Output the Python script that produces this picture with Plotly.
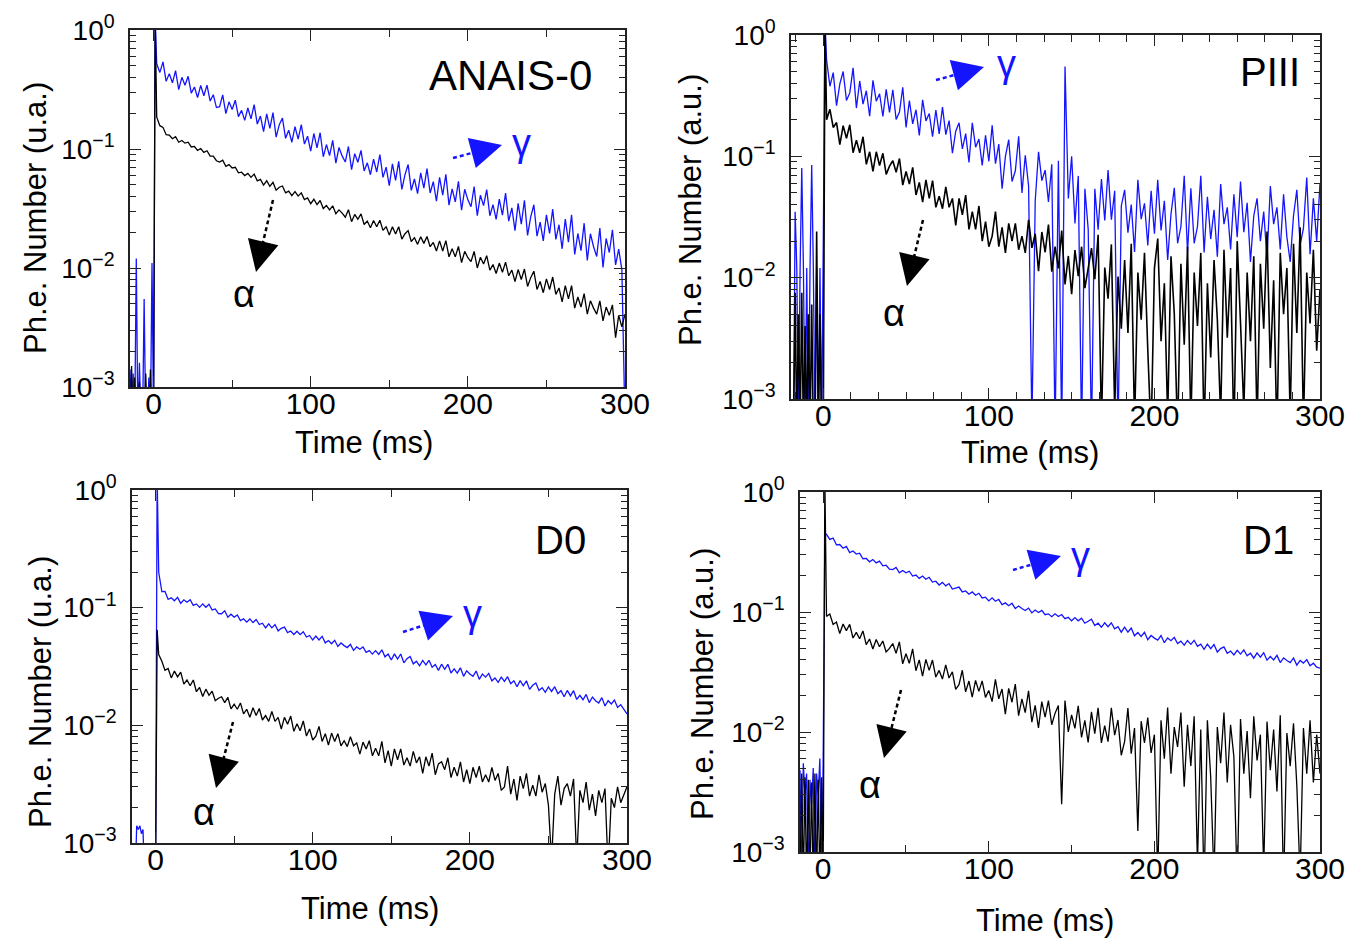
import plotly.graph_objects as go

W, H = 1350, 939

# ---------------- data ----------------
T_MAIN = list(range(2, 300, 2))  # 149 sample times (ms) after the trigger, 2 ms bins

# ---- ANAIS-0 (top left) ----
TL_T_PRE = [-15, -14, -13, -12, -11, -10, -9, -8, -7, -6, -5, -4, -3, -2, -1, 0]
TL_GAMMA_PRE = [0.0014, 0.0005, 0.0013, 0.0005, 0.012, 0.0005, 0.0016, 0.0005,
                0.0005, 0.0055, 0.0005, 0.0005, 0.0012, 0.0005, 0.011, 0.0005]
TL_ALPHA_PRE = [0.0005, 0.0015, 0.0005, 0.0012, 0.0005, 0.0005, 0.0011, 0.0005,
                0.0005, 0.0005, 0.0013, 0.0005, 0.0005, 0.0014, 0.0005, 0.0006]
TL_GAMMA_PEAK, TL_ALPHA_PEAK = 1.3, 1.3
TL_GAMMA = [0.52, 0.44, 0.54, 0.37, 0.43, 0.36, 0.455, 0.315, 0.40, 0.343,
            0.408, 0.295, 0.332, 0.271, 0.342, 0.28, 0.344, 0.253, 0.286, 0.223,
            0.227, 0.285, 0.198, 0.249, 0.215, 0.257, 0.187, 0.211, 0.174, 0.221,
            0.179, 0.236, 0.162, 0.189, 0.14, 0.197, 0.149, 0.202, 0.126, 0.16,
            0.182, 0.123, 0.144, 0.114, 0.154, 0.121, 0.16, 0.11, 0.128, 0.096,
            0.135, 0.102, 0.137, 0.086, 0.109, 0.088, 0.118, 0.076, 0.103, 0.0875,
            0.0777, 0.105, 0.0672, 0.0913, 0.0774, 0.0972, 0.0654, 0.0765, 0.0608, 0.0822,
            0.0641, 0.0898, 0.0578, 0.0705, 0.0491, 0.0749, 0.0544, 0.0788, 0.0457, 0.061,
            0.074, 0.0449, 0.056, 0.0422, 0.063, 0.0469, 0.0683, 0.0427, 0.0532, 0.0364,
            0.0578, 0.041, 0.0612, 0.0338, 0.0463, 0.036, 0.0535, 0.0306, 0.0459, 0.0374,
            0.0327, 0.0483, 0.0275, 0.041, 0.0334, 0.0455, 0.0275, 0.0341, 0.0256, 0.0379,
            0.0278, 0.0426, 0.0248, 0.032, 0.0206, 0.0349, 0.0234, 0.0371, 0.0188, 0.0269,
            0.034, 0.0185, 0.0243, 0.0169, 0.028, 0.0195, 0.0312, 0.0174, 0.0231, 0.0145,
            0.0258, 0.0165, 0.028, 0.013, 0.0195, 0.014, 0.0238, 0.0116, 0.0194, 0.0151,
            0.0125, 0.0217, 0.0101, 0.0177, 0.0135, 0.0209, 0.0106, 0.0144, 0.0097]
TL_ALPHA = [0.185, 0.157, 0.152, 0.132, 0.131, 0.122, 0.127, 0.114, 0.118, 0.112,
            0.114, 0.104, 0.105, 0.0975, 0.101, 0.0936, 0.0966, 0.087, 0.0872, 0.0797,
            0.0776, 0.0806, 0.0716, 0.074, 0.0693, 0.0702, 0.063, 0.0638, 0.0598, 0.0623,
            0.0578, 0.0615, 0.054, 0.0556, 0.0498, 0.0541, 0.0485, 0.0524, 0.0451, 0.0477,
            0.0489, 0.0428, 0.0443, 0.0406, 0.0438, 0.0402, 0.0428, 0.0376, 0.0388, 0.0347,
            0.0378, 0.0341, 0.0369, 0.0316, 0.0335, 0.0308, 0.0333, 0.0286, 0.0308, 0.0289,
            0.0267, 0.0309, 0.0245, 0.0282, 0.0257, 0.0285, 0.0232, 0.0248, 0.0218, 0.0251,
            0.0222, 0.0252, 0.0207, 0.0223, 0.0189, 0.0222, 0.0193, 0.0222, 0.0175, 0.0194,
            0.0206, 0.0167, 0.018, 0.0158, 0.0183, 0.0161, 0.0184, 0.0151, 0.0164, 0.0139,
            0.0169, 0.0139, 0.017, 0.0124, 0.0145, 0.0124, 0.0152, 0.0111, 0.0138, 0.0122,
            0.0113, 0.0138, 0.01, 0.0123, 0.0108, 0.0127, 0.0096, 0.0107, 0.009, 0.011,
            0.0092, 0.0112, 0.0086, 0.0096, 0.0077, 0.0097, 0.008, 0.0098, 0.007, 0.0083,
            0.0094, 0.0066, 0.0077, 0.0062, 0.0081, 0.0066, 0.0084, 0.006, 0.0068, 0.0052,
            0.0071, 0.0055, 0.0071, 0.0046, 0.0057, 0.0047, 0.0061, 0.0041, 0.0053, 0.0046,
            0.0041, 0.0053, 0.0036, 0.0047, 0.004, 0.0049, 0.0026, 0.004, 0.0032]
TL_GAMMA_END, TL_ALPHA_END = 0.0005, 0.0041

# ---- PIII (top right) ----
TR_T_PRE = [-18, -17, -16, -15, -14, -13, -12, -11, -10, -9, -8, -7, -6, -5, -4, -3, -2, -1, 0]
TR_GAMMA_PRE = [0.0005, 0.035, 0.012, 0.0005, 0.012, 0.08, 0.012, 0.0005, 0.012, 0.0005,
                0.012, 0.085, 0.012, 0.0005, 0.012, 0.0005, 0.012, 0.0005, 0.02]
TR_ALPHA_PRE = [0.0005, 0.0075, 0.0005, 0.005, 0.0005, 0.0075, 0.0005, 0.004, 0.0005, 0.005,
                0.0005, 0.006, 0.0005, 0.0005, 0.024, 0.0005, 0.005, 0.0005, 0.0005]
TR_GAMMA_PEAK, TR_ALPHA_PEAK = 1.3, 1.3
TR_GAMMA = [0.62, 0.378, 0.49, 0.262, 0.395, 0.50, 0.289, 0.333, 0.536, 0.25,
            0.418, 0.269, 0.347, 0.214, 0.423, 0.285, 0.328, 0.213, 0.356, 0.23,
            0.354, 0.201, 0.232, 0.371, 0.173, 0.288, 0.185, 0.242, 0.149, 0.292,
            0.196, 0.225, 0.145, 0.241, 0.153, 0.255, 0.151, 0.197, 0.106, 0.161,
            0.189, 0.115, 0.154, 0.089, 0.189, 0.119, 0.139, 0.084, 0.149, 0.091,
            0.18, 0.087, 0.126, 0.054, 0.10, 0.137, 0.062, 0.076, 0.146, 0.05,
            0.102, 0.057, 0.0006, 0.043, 0.109, 0.063, 0.077, 0.042, 0.086, 0.0005,
            0.092, 0.0005, 0.55, 0.045, 0.10, 0.028, 0.069, 0.0005, 0.054, 0.025,
            0.0005, 0.054, 0.0248, 0.065, 0.0296, 0.077, 0.03, 0.052, 0.0005, 0.039,
            0.053, 0.0235, 0.04, 0.0163, 0.064, 0.0304, 0.041, 0.0184, 0.052, 0.023,
            0.064, 0.0245, 0.043, 0.014, 0.0335, 0.055, 0.0192, 0.0264, 0.069, 0.0161,
            0.0546, 0.0192, 0.0264, 0.069, 0.0161, 0.0465, 0.0208, 0.0363, 0.0149, 0.059,
            0.0276, 0.038, 0.0171, 0.0486, 0.0216, 0.062, 0.0237, 0.0414, 0.0135, 0.0324,
            0.045, 0.02, 0.035, 0.0144, 0.057, 0.0276, 0.038, 0.0171, 0.0486, 0.0216,
            0.0135, 0.0324, 0.053, 0.0186, 0.0255, 0.067, 0.0156, 0.045, 0.02]
TR_ALPHA = [0.20, 0.244, 0.173, 0.19, 0.125, 0.179, 0.141, 0.182, 0.107, 0.136,
            0.107, 0.145, 0.086, 0.109, 0.075, 0.109, 0.084, 0.106, 0.071, 0.083,
            0.092, 0.074, 0.096, 0.058, 0.075, 0.059, 0.081, 0.048, 0.061, 0.042,
            0.064, 0.045, 0.063, 0.038, 0.047, 0.037, 0.056, 0.038, 0.045, 0.027,
            0.045, 0.033, 0.048, 0.025, 0.035, 0.025, 0.039, 0.02, 0.029, 0.018,
            0.022, 0.035, 0.018, 0.026, 0.016, 0.028, 0.02, 0.028, 0.017, 0.022,
            0.016, 0.03, 0.0176, 0.023, 0.0113, 0.0238, 0.0162, 0.0274, 0.0112, 0.018,
            0.0119, 0.0244, 0.0088, 0.0151, 0.0073, 0.0169, 0.0103, 0.018, 0.0082, 0.0119,
            0.0175, 0.0097, 0.0226, 0.0006, 0.0121, 0.0067, 0.0188, 0.0008, 0.0102, 0.0038,
            0.014, 0.0035, 0.019, 0.0006, 0.011, 0.0045, 0.016, 0.0025, 0.0005, 0.012,
            0.021, 0.003, 0.009, 0.0007, 0.015, 0.005, 0.0005, 0.013, 0.0028, 0.018,
            0.0006, 0.011, 0.004, 0.016, 0.0005, 0.009, 0.0022, 0.014, 0.0045, 0.0007,
            0.017, 0.0032, 0.012, 0.0005, 0.02, 0.0042, 0.0008, 0.011, 0.003, 0.015,
            0.0006, 0.013, 0.0038, 0.024, 0.0018, 0.0095, 0.0005, 0.016, 0.005, 0.012,
            0.0007, 0.019, 0.0035, 0.026, 0.0006, 0.011, 0.0042, 0.017, 0.0025]
TR_GAMMA_END, TR_ALPHA_END = 0.06, 0.008

# ---- D0 (bottom left) ----
BL_T_PRE = [-15, -14, -13, -12, -11, -10, -9, -8, -7, -6, -5, -4, -3, -2, -1, 0]
BL_GAMMA_PRE = [0.0005, 0.0005, 0.0005, 0.0014, 0.0013, 0.0014, 0.0012, 0.0013,
                0.0005, 0.0005, 0.0005, 0.0005, 0.0005, 0.0005, 0.0005, 0.0005]
BL_ALPHA_PRE = [0.0005, 0.0005, 0.0005, 0.0005, 0.0005, 0.0005, 0.0005, 0.0005,
                0.0005, 0.0005, 0.0005, 0.0005, 0.0005, 0.0005, 0.0005, 0.0005]
BL_GAMMA_PEAK, BL_ALPHA_PEAK = 1.3, 0.065
BL_GAMMA = [0.2, 0.137, 0.1375, 0.1175, 0.1214, 0.1144, 0.1224, 0.1088, 0.1166, 0.1111,
            0.1168, 0.1045, 0.1076, 0.1006, 0.1076, 0.1008, 0.1069, 0.0956, 0.0976, 0.0891,
            0.0888, 0.0941, 0.0829, 0.088, 0.083, 0.0868, 0.0777, 0.0805, 0.0754, 0.0802,
            0.0747, 0.0794, 0.0719, 0.0737, 0.0673, 0.0729, 0.0674, 0.0719, 0.0635, 0.0668,
            0.0684, 0.0614, 0.0634, 0.0591, 0.0631, 0.059, 0.0624, 0.0563, 0.058, 0.0531,
            0.0573, 0.0532, 0.0571, 0.0502, 0.0526, 0.0494, 0.0528, 0.0468, 0.0501, 0.0476,
            0.0458, 0.0488, 0.0433, 0.0464, 0.0443, 0.0464, 0.0417, 0.0431, 0.0403, 0.0431,
            0.04, 0.0438, 0.0382, 0.0403, 0.0359, 0.0405, 0.0366, 0.0404, 0.034, 0.0369,
            0.0385, 0.0333, 0.0351, 0.032, 0.0356, 0.0326, 0.0357, 0.0312, 0.0329, 0.0293,
            0.0331, 0.0299, 0.033, 0.0278, 0.0302, 0.0278, 0.0308, 0.0261, 0.0291, 0.0273,
            0.0261, 0.0289, 0.0246, 0.0273, 0.0257, 0.0276, 0.0239, 0.0253, 0.0232, 0.0257,
            0.0236, 0.0259, 0.0226, 0.0239, 0.0213, 0.024, 0.0217, 0.0239, 0.0202, 0.0219,
            0.0229, 0.0198, 0.0209, 0.0191, 0.0212, 0.0194, 0.0213, 0.0186, 0.0197, 0.0175,
            0.0198, 0.0178, 0.0197, 0.0166, 0.018, 0.0165, 0.0183, 0.0156, 0.0174, 0.0162,
            0.0155, 0.0172, 0.0146, 0.0162, 0.0152, 0.0164, 0.0142, 0.015, 0.0137]
BL_ALPHA = [0.04, 0.0351, 0.0293, 0.0304, 0.0253, 0.0289, 0.0258, 0.0283, 0.0224, 0.0243,
            0.0217, 0.0243, 0.0193, 0.021, 0.0176, 0.0203, 0.018, 0.0195, 0.0162, 0.017,
            0.0175, 0.0156, 0.0173, 0.0138, 0.0151, 0.0137, 0.0155, 0.0125, 0.0137, 0.0117,
            0.0141, 0.0121, 0.0139, 0.0111, 0.0121, 0.0108, 0.0131, 0.0108, 0.0117, 0.0093,
            0.0117, 0.0102, 0.012, 0.0089, 0.0103, 0.009, 0.0109, 0.0081, 0.0093, 0.0075,
            0.0081, 0.0098, 0.0073, 0.0085, 0.0068, 0.0086, 0.0073, 0.0085, 0.0067, 0.0074,
            0.0066, 0.008, 0.0067, 0.0071, 0.0057, 0.0072, 0.0063, 0.0074, 0.0055, 0.0064,
            0.0055, 0.0073, 0.0048, 0.0061, 0.0045, 0.0063, 0.0051, 0.0063, 0.0046, 0.0053,
            0.0045, 0.006, 0.0048, 0.0054, 0.0039, 0.0054, 0.0045, 0.0058, 0.0038, 0.0047,
            0.0049, 0.0042, 0.0053, 0.0036, 0.0044, 0.0037, 0.0049, 0.0033, 0.0042, 0.0032,
            0.0044, 0.0036, 0.0045, 0.0033, 0.0038, 0.0033, 0.0044, 0.0034, 0.0039, 0.0028,
            0.003, 0.0045, 0.0026, 0.0035, 0.0023, 0.0037, 0.0029, 0.0039, 0.0025, 0.0031,
            0.0025, 0.0038, 0.0027, 0.0032, 0.0021, 0.0007, 0.0026, 0.0037, 0.0021, 0.0029,
            0.0032, 0.0025, 0.0035, 0.0007, 0.0028, 0.0022, 0.0033, 0.0019, 0.0026, 0.0017,
            0.0028, 0.0022, 0.0029, 0.0006, 0.0024, 0.002, 0.003, 0.0022, 0.0026]
BL_GAMMA_END, BL_ALPHA_END = 0.0125, 0.003

# ---- D1 (bottom right) ----
BR_T_PRE = [-14, -13, -12, -11, -10, -9, -8, -7, -6, -5, -4, -3, -2, -1, 0]
BR_GAMMA_PRE = [0.0048, 0.0005, 0.0055, 0.003, 0.0045, 0.0005, 0.004, 0.0025,
                0.005, 0.0005, 0.0045, 0.003, 0.006, 0.0005, 0.0058]
BR_ALPHA_PRE = [0.0005, 0.0045, 0.0005, 0.0042, 0.0005, 0.004, 0.0005, 0.0038,
                0.0005, 0.0045, 0.0005, 0.004, 0.0005, 0.0042, 0.0005]
BR_GAMMA_PEAK, BR_ALPHA_PEAK = 0.45, 1.3
BR_GAMMA = [0.444, 0.403, 0.413, 0.3625, 0.365, 0.34, 0.3515, 0.313, 0.3227, 0.3042,
            0.309, 0.2778, 0.2794, 0.262, 0.2734, 0.2564, 0.2657, 0.2423, 0.2454, 0.2273,
            0.2255, 0.2354, 0.2118, 0.2219, 0.2121, 0.2186, 0.1994, 0.203, 0.1907, 0.1994,
            0.1873, 0.1946, 0.1778, 0.1805, 0.1678, 0.1765, 0.165, 0.1726, 0.1554, 0.1594,
            0.1614, 0.1471, 0.1497, 0.1406, 0.147, 0.138, 0.1433, 0.1309, 0.1328, 0.1237,
            0.1311, 0.1228, 0.1276, 0.1151, 0.1191, 0.1128, 0.1182, 0.1068, 0.112, 0.107,
            0.103, 0.1078, 0.0983, 0.1038, 0.0991, 0.1031, 0.0949, 0.0965, 0.0915, 0.0966,
            0.0917, 0.0952, 0.0879, 0.0902, 0.0844, 0.0898, 0.0845, 0.0889, 0.0806, 0.0837,
            0.0872, 0.077, 0.0806, 0.0746, 0.0813, 0.0754, 0.0813, 0.0724, 0.0754, 0.0679,
            0.0747, 0.068, 0.0736, 0.0633, 0.0674, 0.0626, 0.0678, 0.0587, 0.0637, 0.0606,
            0.0583, 0.0637, 0.0555, 0.0608, 0.0577, 0.0615, 0.0545, 0.0571, 0.053, 0.0579,
            0.0538, 0.0581, 0.0517, 0.054, 0.0489, 0.054, 0.0494, 0.0536, 0.0464, 0.0495,
            0.0512, 0.0453, 0.0473, 0.0439, 0.0479, 0.0446, 0.0484, 0.0432, 0.0453, 0.0412,
            0.0457, 0.042, 0.0458, 0.0397, 0.0426, 0.0399, 0.0435, 0.0379, 0.0415, 0.0394,
            0.0379, 0.0414, 0.0361, 0.0395, 0.0375, 0.0401, 0.0356, 0.0374, 0.0347]
BR_ALPHA = [0.092, 0.0961, 0.0788, 0.0824, 0.0662, 0.0793, 0.07, 0.079, 0.0607, 0.0677,
            0.0598, 0.0696, 0.0535, 0.0596, 0.0492, 0.059, 0.0513, 0.0573, 0.0465, 0.0497,
            0.0546, 0.0453, 0.0564, 0.037, 0.0449, 0.0373, 0.0492, 0.0324, 0.0399, 0.0292,
            0.0403, 0.0326, 0.0398, 0.0287, 0.0326, 0.0276, 0.0362, 0.0282, 0.0317, 0.0227,
            0.0248, 0.0327, 0.0216, 0.0266, 0.0195, 0.0269, 0.0218, 0.0267, 0.0194, 0.0222,
            0.0179, 0.0275, 0.0189, 0.0228, 0.0141, 0.0231, 0.0177, 0.0251, 0.0137, 0.0189,
            0.0145, 0.022, 0.0121, 0.0167, 0.0108, 0.0179, 0.0133, 0.0183, 0.0115, 0.0143,
            0.0166, 0.0025, 0.0183, 0.01, 0.0139, 0.0107, 0.0165, 0.009, 0.0125, 0.0082,
            0.0147, 0.0097, 0.0159, 0.0081, 0.0113, 0.0083, 0.0159, 0.0094, 0.0126, 0.0064,
            0.0083, 0.0158, 0.0066, 0.0108, 0.0015, 0.0123, 0.0081, 0.0132, 0.0067, 0.0095,
            0.0006, 0.0125, 0.006, 0.016, 0.0045, 0.011, 0.0075, 0.0145, 0.0035, 0.0115,
            0.0052, 0.0135, 0.0008, 0.0105, 0.0005, 0.0125, 0.0042, 0.0006, 0.011, 0.0055,
            0.0145, 0.0038, 0.0115, 0.0062, 0.0005, 0.0128, 0.0045, 0.0102, 0.0028, 0.0135,
            0.0058, 0.0095, 0.0007, 0.0122, 0.0048, 0.0105, 0.0032, 0.0138, 0.0005, 0.0098,
            0.0052, 0.0118, 0.0036, 0.0006, 0.0108, 0.0045, 0.0125, 0.0038, 0.0095]
BR_GAMMA_END, BR_ALPHA_END = 0.034, 0.0045

X_TICKS = [0, 100, 200, 300]
Y_TICKS = [1, 0.1, 0.01, 0.001]
Y_TICK_TEXT = ["10<sup>0</sup>", "10<sup>\u22121</sup>", "10<sup>\u22122</sup>", "10<sup>\u22123</sup>"]

# ---------------- figure ----------------
FONT = "Liberation Sans, Arial, Helvetica, sans-serif"
BLUE = "#1414ff"
BLACK = "#000000"


def px(x):
    return x / W


def py(y):
    return 1 - y / H


panels = [
    dict(dom_x=(130, 625), dom_y=(30, 387), xr=(-15, 300), minor=50, t_pre=TL_T_PRE,
         g=(TL_GAMMA_PRE, TL_GAMMA_PEAK, TL_GAMMA, TL_GAMMA_END),
         a=(TL_ALPHA_PRE, TL_ALPHA_PEAK, TL_ALPHA, TL_ALPHA_END), aw=1.3),
    dict(dom_x=(791, 1320), dom_y=(35, 399), xr=(-19.5, 300), minor=100 / 6, t_pre=TR_T_PRE,
         g=(TR_GAMMA_PRE, TR_GAMMA_PEAK, TR_GAMMA, TR_GAMMA_END),
         a=(TR_ALPHA_PRE, TR_ALPHA_PEAK, TR_ALPHA, TR_ALPHA_END), aw=1.6),
    dict(dom_x=(132, 627), dom_y=(490, 843), xr=(-15, 300), minor=50, t_pre=BL_T_PRE,
         g=(BL_GAMMA_PRE, BL_GAMMA_PEAK, BL_GAMMA, BL_GAMMA_END),
         a=(BL_ALPHA_PRE, BL_ALPHA_PEAK, BL_ALPHA, BL_ALPHA_END), aw=1.3),
    dict(dom_x=(800, 1320), dom_y=(492, 852), xr=(-14, 300), minor=50, t_pre=BR_T_PRE,
         g=(BR_GAMMA_PRE, BR_GAMMA_PEAK, BR_GAMMA, BR_GAMMA_END),
         a=(BR_ALPHA_PRE, BR_ALPHA_PEAK, BR_ALPHA, BR_ALPHA_END), aw=1.3),
]

fig = go.Figure()
layout = dict(width=W, height=H, autosize=False, margin=dict(l=0, r=0, t=0, b=0, pad=0),
              paper_bgcolor="white", plot_bgcolor="white", showlegend=False,
              font=dict(family=FONT, color="black"))

for i, p in enumerate(panels, start=1):
    sfx = "" if i == 1 else str(i)
    xa, ya = "x" + sfx, "y" + sfx
    times = p["t_pre"] + [1] + T_MAIN + [300]
    for series, color, lw in ((p["g"], BLUE, 1.3), (p["a"], BLACK, p["aw"])):
        pre, peak, main, end = series
        vals = pre + [peak] + main + [end]
        n = min(len(times), len(vals))
        fig.add_trace(go.Scatter(x=times[:n], y=vals[:n], mode="lines", xaxis=xa, yaxis=ya,
                                 line=dict(color=color, width=lw), hoverinfo="skip"))
    common = dict(showline=True, linecolor="#222", linewidth=1.5, mirror="allticks",
                  ticks="inside", tickcolor="#222", showgrid=False, zeroline=False,
                  automargin=False)
    layout["xaxis" + sfx] = dict(
        domain=[px(p["dom_x"][0]), px(p["dom_x"][1])], anchor=ya, range=list(p["xr"]),
        tickmode="array", tickvals=X_TICKS, ticklen=11, tickwidth=1.3,
        tickfont=dict(size=30, family=FONT), ticklabelstandoff=-11,
        minor=dict(dtick=p["minor"], tick0=0, ticks="inside", ticklen=7, tickcolor="#222", tickwidth=1.2),
        **common)
    layout["yaxis" + sfx] = dict(
        domain=[py(p["dom_y"][1]), py(p["dom_y"][0])], anchor=xa, type="log", range=[-3, 0],
        tickmode="array", tickvals=Y_TICKS, ticktext=Y_TICK_TEXT, ticklen=11, tickwidth=1.3,
        tickfont=dict(size=28, family=FONT), ticklabelstandoff=8,
        minor=dict(dtick="D1", ticks="inside", ticklen=6, tickcolor="#222", tickwidth=1.1),
        **common)

annotations = []
shapes = []


def text(x, y, s, size, color="black", angle=0):
    annotations.append(dict(x=px(x), y=py(y), xref="paper", yref="paper", text=s,
                            showarrow=False, textangle=angle, xanchor="center", yanchor="middle",
                            font=dict(size=size, color=color, family=FONT)))


def arrow(tail, tip, color):
    (x0, y0), (x1, y1) = tail, tip
    dx, dy = x1 - x0, y1 - y0
    L = (dx * dx + dy * dy) ** 0.5
    ux, uy = dx / L, dy / L
    head = 20
    bx, by = x1 - ux * head, y1 - uy * head
    shapes.append(dict(type="line", xref="paper", yref="paper", x0=px(x0), y0=py(y0),
                       x1=px(bx + ux * 2), y1=py(by + uy * 2),
                       line=dict(color=color, width=2.5, dash="4px,3px")))
    annotations.append(dict(x=px(x1), y=py(y1), xref="paper", yref="paper", text="",
                            showarrow=True, ax=bx - x1, ay=by - y1, axref="pixel", ayref="pixel",
                            arrowhead=2, arrowsize=2.5, arrowwidth=2.5, arrowcolor=color, standoff=0))


# axis titles
for cx, cy in ((364, 442), (1030, 452), (370, 908), (1045, 920)):
    text(cx, cy, "Time (ms)", 31)
text(36, 218, "Ph.e. Number (u.a.)", 31, angle=-90)
text(690, 210, "Ph.e. Number (a.u.)", 31, angle=-90)
text(40, 692, "Ph.e. Number (u.a.)", 31, angle=-90)
text(702, 684, "Ph.e. Number (a.u.)", 31, angle=-90)

# panel labels
text(510, 76, "ANAIS-0", 42)
text(1270, 72, "PIII", 40)
text(560, 540, "D0", 40)
text(1268, 540, "D1", 40)

# gamma / alpha markers
text(521, 143, "\u03b3", 38, BLUE)
text(244, 294, "\u03b1", 38, BLACK)
text(1007, 64, "\u03b3", 38, BLUE)
text(894, 313, "\u03b1", 38, BLACK)
text(472, 614, "\u03b3", 38, BLUE)
text(204, 812, "\u03b1", 38, BLACK)
text(1080, 556, "\u03b3", 38, BLUE)
text(870, 785, "\u03b1", 38, BLACK)

arrow((453, 158), (502, 145), BLUE)
arrow((273, 200), (256, 272), BLACK)
arrow((936, 80), (984, 67), BLUE)
arrow((923, 220), (907, 286), BLACK)
arrow((403, 632), (453, 616), BLUE)
arrow((233, 722), (216, 788), BLACK)
arrow((1013, 570), (1061, 556), BLUE)
arrow((901, 690), (884, 758), BLACK)

layout["annotations"] = annotations
layout["shapes"] = shapes
fig.update_layout(**layout)
fig.write_html("out.html")
